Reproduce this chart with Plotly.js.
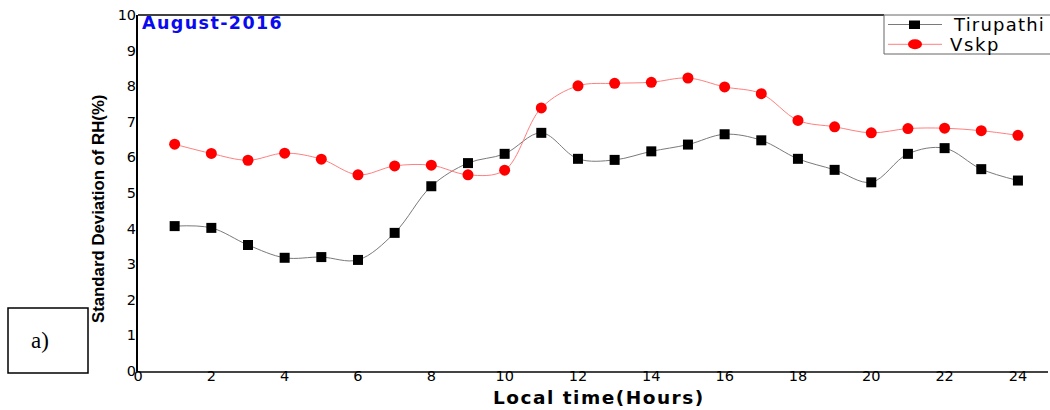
<!DOCTYPE html>
<html>
<head>
<meta charset="utf-8">
<script src="https://cdn.plot.ly/plotly-3.0.1.min.js"></script>
<style>html,body{margin:0;padding:0;background:#fff;}#chart{width:1050px;height:410px;}</style>
</head>
<body>
<div id="chart"></div>
<script>
const hours = [1,2,3,4,5,6,7,8,9,10,11,12,13,14,15,16,17,18,19,20,21,22,23,24];
const tirupathi = [4.07,4.02,3.54,3.18,3.20,3.12,3.88,5.19,5.84,6.10,6.69,5.96,5.93,6.17,6.36,6.65,6.48,5.96,5.65,5.30,6.10,6.26,5.67,5.35];
const vskp = [6.37,6.11,5.92,6.12,5.95,5.51,5.76,5.78,5.51,5.64,7.39,8.01,8.08,8.11,8.23,7.98,7.79,7.04,6.86,6.69,6.81,6.82,6.75,6.62];
const xTicks = [0,2,4,6,8,10,12,14,16,18,20,22,24];
const yTicks = [0,1,2,3,4,5,6,7,8,9,10];
const seriesNames = ['Tirupathi','Vskp'];
const titleText = 'August-2016';
const xTitle = 'Local time(Hours)';
const yTitle = 'Standard Deviation of RH(%)';
const panelLabel = 'a)';

const W = 1050, H = 410, L = 138, R = 2, T = 15, B = 39;
const pw = W - L - R, ph = H - T - B;
const px = v => (v - L) / pw;           // pixel -> paper x
const py = v => (H - B - v) / ph;       // pixel -> paper y

const lineColors = ['#7a7a7a', '#ff7f7f'];
const markerColors = ['#000000', '#ff0000'];

const traces = [
  {x: hours, y: tirupathi, name: seriesNames[0], type: 'scatter', mode: 'lines+markers',
   line: {color: lineColors[0], width: 1, shape: 'spline', smoothing: 1},
   marker: {symbol: 'square', color: markerColors[0], size: 10}},
  {x: hours, y: vskp, name: seriesNames[1], type: 'scatter', mode: 'lines+markers',
   line: {color: lineColors[1], width: 1, shape: 'spline', smoothing: 1},
   marker: {symbol: 'circle', color: markerColors[1], size: 11}}
];

const sans = 'Liberation Sans, Arial, sans-serif';
const wide = 'DejaVu Sans, Verdana, sans-serif';
const sp = (s, n) => '<span style="letter-spacing:' + n + 'px">' + s + '</span>';

const layout = {
  width: W, height: H,
  margin: {l: L, r: R, t: T, b: B, pad: 0},
  paper_bgcolor: '#fff', plot_bgcolor: '#fff',
  font: {family: wide, color: '#000', size: 14.5},
  showlegend: false,
  xaxis: {range: [0, 24.82], tickvals: xTicks, ticktext: xTicks.map(String),
    showgrid: false, zeroline: false, showline: true, linecolor: '#444', linewidth: 2,
    ticks: '', tickfont: {family: wide, size: 14.5}, ticklabelstandoff: -9, fixedrange: true},
  yaxis: {range: [0, 10], tickvals: yTicks, ticktext: yTicks.map(String),
    showgrid: false, zeroline: false, showline: true, linecolor: '#000', linewidth: 2,
    ticks: '', tickfont: {family: wide, size: 14.5}, ticklabelstandoff: -3, fixedrange: true},
  shapes: [
    // top frame line
    {type: 'line', xref: 'paper', yref: 'paper', x0: 0, x1: px(884), y0: 1, y1: 1,
     line: {color: '#000', width: 1.5}},
    // panel label box
    {type: 'rect', xref: 'paper', yref: 'paper', x0: px(8), x1: px(88), y0: py(373), y1: py(308),
     line: {color: '#000', width: 1.5}, fillcolor: 'rgba(0,0,0,0)'},
    // legend box
    {type: 'rect', xref: 'paper', yref: 'paper', x0: px(884), x1: px(1056), y0: py(54), y1: py(15),
     line: {color: '#666', width: 1}, fillcolor: '#fff'},
    // legend samples
    {type: 'line', xref: 'paper', yref: 'paper', x0: px(888), x1: px(942), y0: py(24.5), y1: py(24.5),
     line: {color: lineColors[0], width: 1}},
    {type: 'rect', xref: 'paper', yref: 'paper', x0: px(909), x1: px(920), y0: py(29), y1: py(20.5),
     line: {width: 0}, fillcolor: markerColors[0]},
    {type: 'line', xref: 'paper', yref: 'paper', x0: px(888), x1: px(942), y0: py(44.3), y1: py(44.3),
     line: {color: lineColors[1], width: 1}},
    {type: 'circle', xref: 'paper', yref: 'paper', x0: px(908), x1: px(922), y0: py(49.3), y1: py(39.3),
     line: {width: 0}, fillcolor: markerColors[1]}
  ],
  annotations: [
    {text: sp(titleText, 1.4), xref: 'paper', yref: 'paper',
     x: px(140), y: py(22.5), xanchor: 'left', yanchor: 'middle',
     showarrow: false, font: {family: wide, size: 17.5, color: '#0a0af0', weight: 'bold'}},
    {text: sp(xTitle, 1.5), xref: 'paper', yref: 'paper',
     x: px(491), y: py(398), xanchor: 'left', yanchor: 'middle',
     showarrow: false, font: {family: wide, size: 18.5, color: '#000', weight: 'bold'}},
    {text: yTitle, xref: 'paper', yref: 'paper', x: px(98), y: py(209), xanchor: 'center', yanchor: 'middle',
     textangle: -90, showarrow: false,
     font: {family: sans, size: 16.8, color: '#000', weight: 'bold'}},
    {text: panelLabel, xref: 'paper', yref: 'paper', x: px(40), y: py(340), xanchor: 'center', yanchor: 'middle',
     showarrow: false, font: {family: 'Liberation Serif, Times New Roman, serif', size: 23, color: '#000'}},
    {text: sp(seriesNames[0], 1.2), xref: 'paper', yref: 'paper', x: px(951), y: py(24.5), xanchor: 'left', yanchor: 'middle',
     showarrow: false, font: {family: wide, size: 18, color: '#000'}},
    {text: sp(seriesNames[1], 1.6), xref: 'paper', yref: 'paper', x: px(948), y: py(44.5), xanchor: 'left', yanchor: 'middle',
     showarrow: false, font: {family: wide, size: 18, color: '#000'}}
  ]
};

Plotly.newPlot('chart', traces, layout, {displayModeBar: false, staticPlot: true});
</script>
</body>
</html>
